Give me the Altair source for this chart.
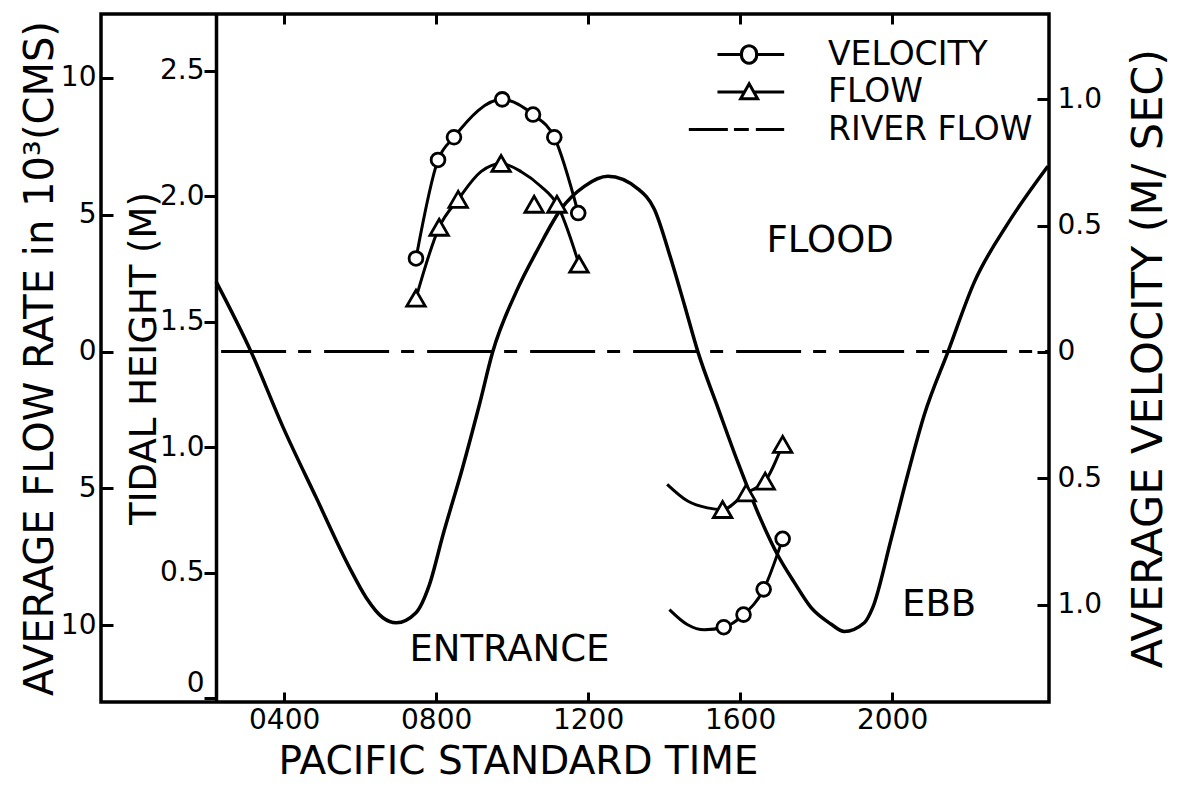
import altair as alt
import pandas as pd

# ---------------- data ----------------
TIDE_TIME = [2.21, 3.13, 3.97, 4.84, 5.72, 6.16, 6.60, 6.95, 7.47, 7.82, 8.18, 8.70, 9.14, 9.49,
             10.11, 10.68, 11.29, 11.90, 12.52, 13.31, 13.74, 14.18, 14.53, 14.89, 15.41, 15.94,
             16.55, 16.99, 17.43, 17.87, 18.39, 18.74, 19.27, 19.49, 19.97, 20.41, 20.85, 21.47,
             22.17, 23.04, 24.10]
TIDE_HEIGHT = [1.66, 1.38, 1.08, 0.80, 0.52, 0.40, 0.32, 0.30, 0.34, 0.45, 0.65, 0.92, 1.17, 1.38,
               1.62, 1.79, 1.95, 2.04, 2.08, 2.03, 1.95, 1.75, 1.57, 1.38, 1.16, 0.94,
               0.71, 0.57, 0.46, 0.36, 0.295, 0.265, 0.30, 0.36, 0.63, 0.89, 1.13, 1.38,
               1.66, 1.89, 2.12]

VEL_FLOOD_TIME = [7.47, 8.05, 8.47, 9.74, 10.55, 11.11, 11.74]
VEL_FLOOD = [0.37, 0.76, 0.85, 1.00, 0.94, 0.85, 0.55]

FLOW_FLOOD_TIME = [7.47, 8.08, 8.58, 9.71, 10.58, 11.18, 11.76]
FLOW_FLOOD = [1.95, 4.54, 5.56, 6.87, 5.38, 5.38, 3.19]
FLOW_FLOOD_LINE_TIME = [7.47, 8.08, 8.58, 9.18, 9.71, 10.24, 10.76, 11.18, 11.76]
FLOW_FLOOD_LINE = [1.95, 4.54, 5.56, 6.57, 6.87, 6.57, 6.03, 5.38, 3.19]

FLOW_EBB_TIME = [15.54, 16.16, 16.66, 17.12]
FLOW_EBB = [-5.77, -5.16, -4.73, -3.39]
FLOW_EBB_LINE_TIME = [14.08, 14.62, 15.14, 15.54, 16.16, 16.66, 17.12]
FLOW_EBB_LINE = [-4.85, -5.46, -5.71, -5.77, -5.16, -4.73, -3.39]

VEL_EBB_TIME = [15.57, 16.09, 16.62, 17.12]
VEL_EBB = [-1.09, -1.04, -0.94, -0.74]
VEL_EBB_LINE_TIME = [14.14, 14.62, 15.06, 15.57, 16.09, 16.62, 17.12]
VEL_EBB_LINE = [-1.02, -1.08, -1.10, -1.09, -1.04, -0.94, -0.74]

RIVER_TIME = [2.21, 24.13]
RIVER_FLOW = [0.0, 0.0]

ANNOT_TEXT = ["FLOOD", "EBB", "ENTRANCE"]
ANNOT_TIME = [18.37, 21.24, 9.93]
ANNOT_HEIGHT = [1.82, 0.37, 0.19]

LEGEND_LABELS = ["VELOCITY", "FLOW", "RIVER FLOW"]

TIME_TICKS = [4, 8, 12, 16, 20]
TIDE_TICKS = [0, 0.5, 1.0, 1.5, 2.0, 2.5]
FLOW_TICKS = [-10, -5, 0, 5, 10]
VEL_TICKS = [-1.0, -0.5, 0, 0.5, 1.0]

# ---------------- styling ----------------
FONT = "DejaVu Sans"
TIME_DOMAIN = [-0.82, 24.13]
TIDE_DOMAIN = [-0.016, 2.727]
FLOW_DOMAIN = [-12.80, 12.33]
VEL_DOMAIN = [-1.386, 1.338]

# legend symbols (unit = half of sqrt(symbolSize) = 16 px)
VEL_PATH = "M-1.19,0L0.32,0M1.25,0L2.98,0M1.25,0A0.47,0.47,0,1,1,0.32,0A0.47,0.47,0,1,1,1.25,0Z"
FLOW_PATH = "M-1.19,0L0.49,0M1.08,0L2.98,0M0.79,-0.51L1.32,0.42L0.26,0.42Z"
RIVER_PATH = "M-2.98,0L-0.54,0M-0.16,0L0.77,0M1.21,0L2.98,0"


def inward(n):
    return alt.ExprRef(expr=str(-n))


x_scale = alt.Scale(domain=TIME_DOMAIN, nice=False, zero=False)
tide_scale = alt.Scale(domain=TIDE_DOMAIN, nice=False, zero=False)
flow_scale = alt.Scale(domain=FLOW_DOMAIN, nice=False, zero=False)
vel_scale = alt.Scale(domain=VEL_DOMAIN, nice=False, zero=False)

x_bottom = alt.X("t:Q", scale=x_scale, axis=alt.Axis(
    orient="bottom", values=TIME_TICKS, title="PACIFIC STANDARD TIME",
    labelExpr="(datum.value < 10 ? '0' : '') + datum.value + '00'",
    tickSize=inward(10), labelPadding=14, domain=False, titlePadding=8, titleX=417))
x_top = alt.X("t:Q", scale=x_scale, axis=alt.Axis(
    orient="top", values=TIME_TICKS, labels=False, title=None,
    tickSize=inward(10), domain=False))
x_none = alt.X("t:Q", scale=x_scale, axis=None)

tide_df = pd.DataFrame({"t": TIDE_TIME, "v": TIDE_HEIGHT})
annot_df = pd.DataFrame({"t": ANNOT_TIME, "v": ANNOT_HEIGHT, "label": ANNOT_TEXT})
flow_line_df = pd.concat([
    pd.DataFrame({"t": FLOW_FLOOD_LINE_TIME, "v": FLOW_FLOOD_LINE, "seg": "flood"}),
    pd.DataFrame({"t": FLOW_EBB_LINE_TIME, "v": FLOW_EBB_LINE, "seg": "ebb"}),
])
flow_pt_df = pd.concat([
    pd.DataFrame({"t": FLOW_FLOOD_TIME, "v": FLOW_FLOOD}),
    pd.DataFrame({"t": FLOW_EBB_TIME, "v": FLOW_EBB}),
])
river_df = pd.DataFrame({"t": RIVER_TIME, "v": RIVER_FLOW})
vel_line_df = pd.concat([
    pd.DataFrame({"t": VEL_FLOOD_TIME, "v": VEL_FLOOD, "seg": "flood"}),
    pd.DataFrame({"t": VEL_EBB_LINE_TIME, "v": VEL_EBB_LINE, "seg": "ebb"}),
])
vel_pt_df = pd.concat([
    pd.DataFrame({"t": VEL_FLOOD_TIME, "v": VEL_FLOOD}),
    pd.DataFrame({"t": VEL_EBB_TIME, "v": VEL_EBB}),
])
legend_df = pd.DataFrame({"series": LEGEND_LABELS})

# ---------------- layers ----------------
tide_line = alt.Chart(tide_df).mark_line(
    color="black", strokeWidth=3.5, interpolate="monotone"
).encode(
    x=x_bottom,
    y=alt.Y("v:Q", scale=tide_scale, axis=alt.Axis(
        orient="left", offset=-115, values=TIDE_TICKS, title="TIDAL HEIGHT  (M)",
        labelExpr="datum.value == 0 ? '0' : format(datum.value, '.1f')",
        tickSize=12, labelPadding=0, labelFlush=5, domain=True, domainWidth=3.5,
        titlePadding=-4, titleFontSize=37)),
)
annot = alt.Chart(annot_df).mark_text(
    font=FONT, fontSize=37, color="black", align="center", baseline="middle"
).encode(
    x=x_none, y=alt.Y("v:Q", scale=tide_scale, axis=None), text="label:N"
)
river = alt.Chart(river_df).mark_line(
    color="black", strokeWidth=3, strokeDash=[65, 12, 13, 13], strokeDashOffset=-108
).encode(
    x=x_top,
    y=alt.Y("v:Q", scale=flow_scale, axis=alt.Axis(
        orient="left", values=FLOW_TICKS,
        title="AVERAGE FLOW RATE in 10³(CMS)",
        labelExpr="'' + abs(datum.value)",
        tickSize=inward(12), labelPadding=17, domain=False, titlePadding=0,
        titleFontSize=40)),
)
flow_lines = alt.Chart(flow_line_df).mark_line(
    color="black", strokeWidth=3, interpolate="monotone"
).encode(
    x=x_none, y=alt.Y("v:Q", scale=flow_scale, axis=None), detail="seg:N"
)
flow_pts = alt.Chart(flow_pt_df).mark_point(
    shape="triangle-up", size=340, filled=True, fill="white", stroke="black",
    strokeWidth=2.8, opacity=1
).encode(
    x=x_none, y=alt.Y("v:Q", scale=flow_scale, axis=None)
)
vel_lines = alt.Chart(vel_line_df).mark_line(
    color="black", strokeWidth=3, interpolate="monotone"
).encode(
    x=x_none,
    y=alt.Y("v:Q", scale=vel_scale, axis=alt.Axis(
        orient="right", values=VEL_TICKS, title="AVERAGE VELOCITY  (M/ SEC)",
        labelExpr="datum.value == 0 ? '0' : format(abs(datum.value), '.1f')",
        tickSize=inward(12), labelPadding=20, domain=False,
        titleAngle=270, titleBaseline="top", titlePadding=26, titleFontSize=43)),
    detail="seg:N",
)
vel_pts = alt.Chart(vel_pt_df).mark_point(
    shape="circle", size=190, filled=True, fill="white", stroke="black",
    strokeWidth=2.8, opacity=1
).encode(
    x=x_none, y=alt.Y("v:Q", scale=vel_scale, axis=None)
)
legend_layer = alt.Chart(legend_df).transform_filter("false").mark_point(
    filled=False, color="black", strokeWidth=3, opacity=1
).encode(
    shape=alt.Shape("series:N", scale=alt.Scale(domain=LEGEND_LABELS,
                                               range=[VEL_PATH, FLOW_PATH, RIVER_PATH]),
                    legend=alt.Legend(
                        title=None, orient="none", legendX=618, legendY=23,
                        direction="vertical", labelFont=FONT, labelFontSize=33,
                        labelColor="black", symbolSize=1024, symbolStrokeWidth=3,
                        symbolStrokeColor="black", symbolOpacity=1,
                        labelOffset=74, rowPadding=2.5, padding=0, labelLimit=0)),
)

chart = alt.layer(
    tide_line, annot, river, flow_lines, flow_pts, vel_lines, vel_pts, legend_layer
).resolve_scale(
    y="independent"
).resolve_axis(
    x="independent"
).properties(
    width=948, height=688, background="white",
    padding={"left": 20, "top": 12, "right": 0, "bottom": 5},
).configure_view(
    stroke="black", strokeWidth=3.5
).configure_axis(
    labelFont=FONT, titleFont=FONT, labelFontSize=28, titleFontSize=39,
    labelColor="black", titleColor="black", tickColor="black", domainColor="black",
    tickWidth=3, grid=False, titleFontWeight="normal",
)

chart.save("out.html", embed_options={"renderer": "svg", "actions": False})
